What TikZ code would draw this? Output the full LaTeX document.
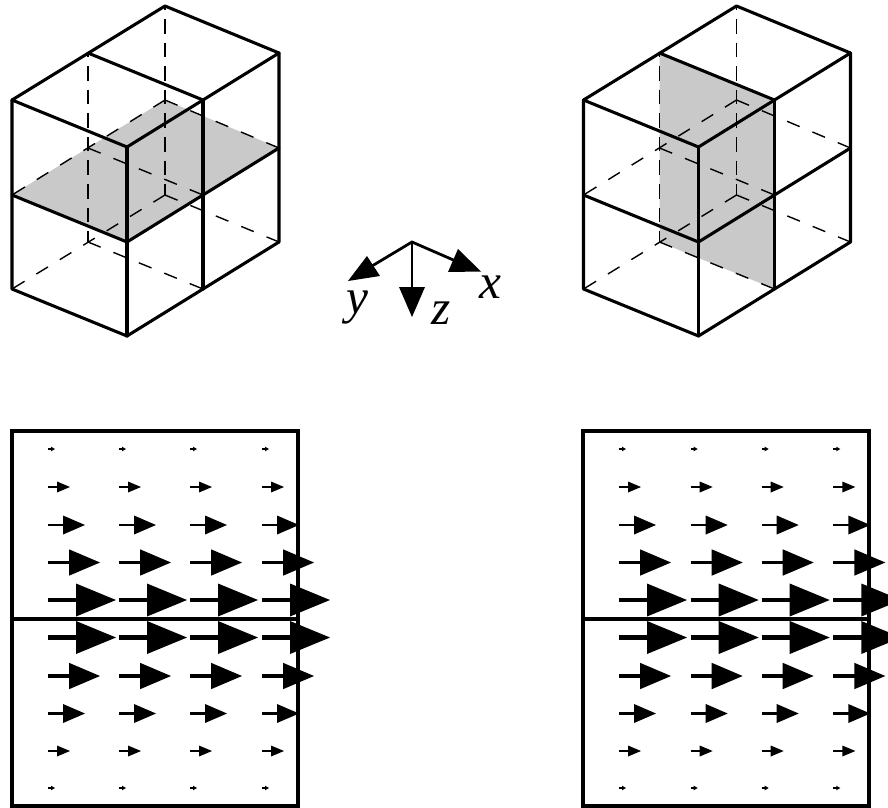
\documentclass[tikz,border=0pt]{standalone}
\usepackage{fontspec}
\setmainfont{Liberation Serif}
\tikzset{
  edgeline/.style={line width=2.3pt,line cap=round,line join=round,black},
  hiddenline/.style={line width=1.05pt,black,dash pattern=on 10.2pt off 10.4pt},
  vhiddenline/.style={line width=1.4pt,black,dash pattern=on 10.9pt off 6.8pt,dash phase=7.9pt},
  shade/.style={fill=black!21,draw=none},
  axisline/.style={line width=2.1pt,black},
  axislabel/.style={font=\fontsize{37}{37}\selectfont\itshape,inner sep=0pt},
  boxline/.style={line width=2.3pt,black},
}
\newcommand{\cubeframe}{%
  \draw[vhiddenline] (165,6) -- (165,195);
  \draw[vhiddenline] (88,53) -- (88,242);
  \draw[hiddenline] (165,100) -- (12,195);
  \draw[hiddenline] (165,100) -- (279,148);
  \draw[hiddenline] (88,148) -- (203,195);
  \draw[hiddenline] (165,195) -- (12,289);
  \draw[hiddenline] (165,195) -- (279,242);
  \draw[hiddenline] (88,242) -- (203,289);
  \draw[edgeline] (12,100) -- (165,6) -- (279,53) -- (127,147) -- cycle;
  \draw[edgeline] (88,53) -- (203,100);
  \draw[edgeline] (12,100) -- (12,289) -- (127,336) -- (279,242) -- (279,53);
  \draw[edgeline] (127,147) -- (127,336);
  \draw[edgeline] (203,100) -- (203,289);
  \draw[edgeline] (12,195) -- (127,242) -- (279,148);
}
\newcommand{\qarrow}[6]{% x y length headlength halfwidth linewidth
  \draw[line width=#6pt,black] (#1,#2) -- ++(#3-#4+1,0);
  \fill[black] (#1+#3,#2) -- (#1+#3-#4,#2-#5) -- (#1+#3-#4,#2+#5) -- cycle;
}
\newcommand{\quiver}[5]{% x of box, then four column starts
  \draw[boxline] (#1,431) rectangle (#1+286,806);
  \draw[boxline] (#1,619) -- (#1+286,619);
  \foreach \cx in {#2,#3,#4,#5}{
    \foreach \ry/\l/\h/\w/\lw in {
      449/7/4/2.3/1, 487/22/13/5.5/1.2, 525/37/22/9.5/2, 562.5/52/31/13.2/2.4, 600/68/40/16.5/3.7,
      637.5/68/40/16.5/3.7, 676/52/31/13.2/2.4, 713.5/37/22/9.5/2, 751/22/13/5.5/1.2, 788/7/4/2.3/1}{
      \qarrow{\cx}{\ry}{\l}{\h}{\w}{\lw}
    }
  }
}
\begin{document}
\begin{tikzpicture}[x=0.75pt,y=-0.75pt]
\path[use as bounding box] (0,0) rectangle (888,807);
\clip (0,0) rectangle (888,807);
\fill[shade] (165,100) -- (279,148) -- (127,242) -- (12,195) -- cycle;
\cubeframe
\begin{scope}[shift={(571.5,0)}]
  \fill[shade] (88,53) -- (203,100) -- (203,289) -- (88,242) -- cycle;
  \cubeframe
\end{scope}
\coordinate (o) at (412,242);
\coordinate (xb) at (458,262);
\coordinate (yb) at (372,266);
\coordinate (zb) at (412,288);
\draw[axisline] (yb) -- (o) -- (xb);
\draw[axisline] (o) -- (zb);
\fill (481,271.5) -- (458,249) -- (448,272) -- cycle;
\fill (348,281) -- (367,256) -- (380,276) -- cycle;
\fill (412,317) -- (399,287) -- (425,287) -- cycle;
\node[axislabel] (xl) at (490,287) {x};
\node[axislabel] (yl) at (357,307) {y};
\node[axislabel] (zl) at (441,313) {z};
\quiver{12}{48}{119}{190}{262}
\quiver{583}{619}{690.7}{761.7}{833.3}
\end{tikzpicture}
\end{document}
